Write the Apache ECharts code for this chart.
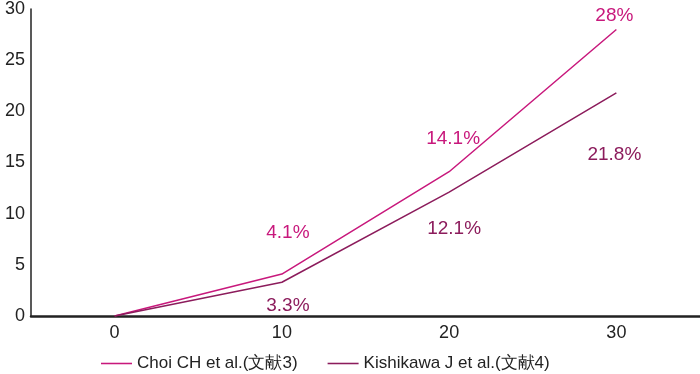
<!DOCTYPE html>
<html><head><meta charset="utf-8">
<script src="https://cdn.jsdelivr.net/npm/echarts@6/dist/echarts.min.js"></script>
<style>html,body{margin:0;padding:0;background:#fff}#c{width:700px;height:374px}</style>
</head><body><div id="c"></div>
<script>
const categories = ['0', '10', '20', '30'];
const choiValues = [0, 4.1, 14.1, 28];
const kishiValues = [0, 3.3, 12.1, 21.8];
const choiLabels = ['', '4.1%', '14.1%', '28%'];
const kishiLabels = ['', '3.3%', '12.1%', '21.8%'];
const seriesNames = ['Choi CH et al.(文献3)', 'Kishikawa J et al.(文献4)'];
const yTicks = { min: 0, max: 30, interval: 5 };

const choiColor = '#c8187c';
const kishiColor = '#8c1c5c';
const font = 'Liberation Sans, Arial, sans-serif';

// label placement (styling only)
const choiLabelOffsets = [[6, -27], [4, -18], [-2, 1]];
const kishiLabelOffsets = [[6, 9], [5, 22], [-2, 47]];

function buildData(values, labels, offsets, pos) {
  return values.map((v, i) => ({
    value: v,
    label: {
      show: labels[i] !== '',
      formatter: labels[i],
      position: pos,
      offset: i > 0 ? offsets[i - 1] : [0, 0],
      distance: 5
    }
  }));
}

const chart = echarts.init(document.getElementById('c'));
chart.setOption({
  animation: false,
  grid: { left: 31, right: 0, top: 7, bottom: 58, containLabel: false },
  legend: {
    top: 350, left: 96,
    icon: 'path://M0,0H30V1.5H0Z',
    itemWidth: 31, itemHeight: 2, itemGap: 30,
    textStyle: { fontFamily: font, fontSize: 17, color: '#222' },
    data: seriesNames
  },
  xAxis: {
    type: 'category', data: categories, boundaryGap: true,
    axisLine: { lineStyle: { color: '#222', width: 2.5 } },
    axisTick: { show: false },
    axisLabel: { fontFamily: font, fontSize: 18, color: '#222', margin: 8 }
  },
  yAxis: {
    type: 'value', min: yTicks.min, max: yTicks.max, interval: yTicks.interval,
    axisLine: { show: true, lineStyle: { color: '#222', width: 1.5 } },
    axisTick: { show: false },
    splitLine: { show: false },
    axisLabel: { fontFamily: font, fontSize: 18, color: '#222', margin: 6 }
  },
  series: [
    {
      name: seriesNames[0], type: 'line', symbol: 'circle', symbolSize: 0.01, showSymbol: true,
      lineStyle: { color: choiColor, width: 1.5 }, itemStyle: { color: choiColor },
      label: { fontFamily: font, fontSize: 19, color: choiColor },
      data: buildData(choiValues, choiLabels, choiLabelOffsets, 'top')
    },
    {
      name: seriesNames[1], type: 'line', symbol: 'circle', symbolSize: 0.01, showSymbol: true,
      lineStyle: { color: kishiColor, width: 1.5 }, itemStyle: { color: kishiColor },
      label: { fontFamily: font, fontSize: 19, color: kishiColor },
      data: buildData(kishiValues, kishiLabels, kishiLabelOffsets, 'bottom')
    }
  ]
});
</script></body></html>
